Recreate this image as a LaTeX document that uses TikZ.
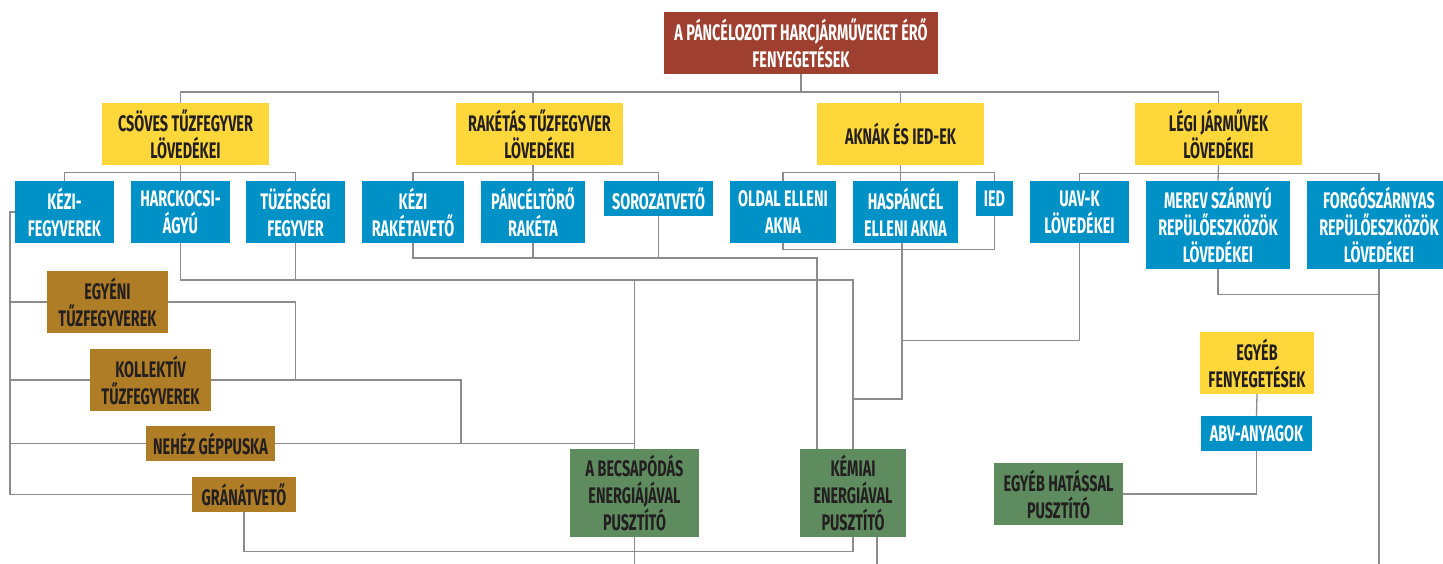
\documentclass[tikz,border=0pt]{standalone}
\usepackage{fontspec}
\newfontfamily\boxfont{Fira Sans}[FakeStretch=0.64]
\usetikzlibrary{positioning,calc}
\definecolor{threatred}{HTML}{9E3F2F}
\definecolor{catyellow}{HTML}{FED73B}
\definecolor{subblue}{HTML}{0091C7}
\definecolor{kindbrown}{HTML}{B07D27}
\definecolor{effgreen}{HTML}{5E8C5F}
\definecolor{inkdark}{HTML}{231F20}
\definecolor{wire}{HTML}{8C8C8C}

\begin{document}
\begin{tikzpicture}[
  x=1pt, y=-1pt,
  box/.style={inner sep=0pt, align=center, font=\boxfont\bfseries\fontsize{22.5}{27}\selectfont},
  head/.style={box, fill=threatred, text=white},
  cat/.style={box, fill=catyellow, text=inkdark},
  sub/.style={box, fill=subblue, text=white},
  kind/.style={box, fill=kindbrown, text=inkdark},
  effect/.style={box, fill=effgreen, text=inkdark},
  link/.style={draw=wire, line width=1.3pt}
]
  \clip (0,0) rectangle (1443,563);

  % root and the four categories
  \node[head, minimum width=274pt, minimum height=62pt] (top) at (801,43) {A PÁNCÉLOZOTT HARCJÁRMŰVEKET ÉRŐ\\FENYEGETÉSEK};
  \node[cat, minimum width=167pt, minimum height=62pt] (csoves) at (185.5,134) {CSÖVES TŰZFEGYVER\\LÖVEDÉKEI};
  \node[cat, minimum width=167pt, minimum height=62pt] (rakett) at (539.5,134) {RAKÉTÁS TŰZFEGYVER\\LÖVEDÉKEI};
  \node[cat, minimum width=167pt, minimum height=62pt] (aknak) at (900.5,134) {AKNÁK ÉS IED-EK};
  \node[cat, minimum width=167pt, minimum height=62pt] (legi) at (1218.5,134) {LÉGI JÁRMŰVEK\\LÖVEDÉKEI};

  % second row
  \node[sub, minimum width=99pt, minimum height=62pt] (kezi) at (64.5,212) {KÉZI-\\FEGYVEREK};
  \node[sub, minimum width=99pt, minimum height=62pt] (harckocsi) at (180.5,212) {HARCKOCSI-\\ÁGYÚ};
  \node[sub, minimum width=99pt, minimum height=62pt] (tuzer) at (295.5,212) {TÜZÉRSÉGI\\FEGYVER};
  \node[sub, minimum width=102pt, minimum height=62pt] (kezirak) at (413,212) {KÉZI\\RAKÉTAVETŐ};
  \node[sub, minimum width=104pt, minimum height=62pt] (pancel) at (533,212) {PÁNCÉLTÖRŐ\\RAKÉTA};
  \node[sub, minimum width=109pt, minimum height=35pt] (sorozat) at (658.5,198.5) {SOROZATVETŐ};
  \node[sub, minimum width=106pt, minimum height=62pt] (oldal) at (783,212) {OLDAL ELLENI\\AKNA};
  \node[sub, minimum width=105pt, minimum height=62pt] (haspancel) at (905.5,212) {HASPÁNCÉL\\ELLENI AKNA};
  \node[sub, minimum width=37pt, minimum height=35pt] (ied) at (994.5,198.5) {IED};
  \node[sub, minimum width=99pt, minimum height=62pt] (uav) at (1079.5,212) {UAV-K\\LÖVEDÉKEI};
  \node[sub, minimum width=144pt, minimum height=88pt] (merev) at (1218,225) {MEREV SZÁRNYÚ\\REPÜLŐESZKÖZÖK\\LÖVEDÉKEI};
  \node[sub, minimum width=144pt, minimum height=88pt] (forgo) at (1379,225) {FORGÓSZÁRNYAS\\REPÜLŐESZKÖZÖK\\LÖVEDÉKEI};

  % small arms
  \node[kind, minimum width=121pt, minimum height=62pt] (egyeni) at (107.5,302) {EGYÉNI\\TŰZFEGYVEREK};
  \node[kind, minimum width=121pt, minimum height=62pt] (kollektiv) at (150.5,380) {KOLLEKTÍV\\TŰZFEGYVEREK};
  \node[kind, minimum width=129pt, minimum height=35pt] (nehez) at (210.5,443.5) {NEHÉZ GÉPPUSKA};
  \node[kind, minimum width=104pt, minimum height=35pt] (granat) at (244,494.5) {GRÁNÁTVETŐ};

  % kill mechanisms
  \node[effect, minimum width=129pt, minimum height=88pt] (becsap) at (634.5,493) {A BECSAPÓDÁS\\ENERGIÁJÁVAL\\PUSZTÍTÓ};
  \node[effect, minimum width=106pt, minimum height=88pt] (kemiai) at (853,493) {KÉMIAI\\ENERGIÁVAL\\PUSZTÍTÓ};
  \node[effect, minimum width=129pt, minimum height=62pt] (egyebhat) at (1058.5,494) {EGYÉB HATÁSSAL\\PUSZTÍTÓ};

  % other threats
  \node[cat, minimum width=114pt, minimum height=62pt] (egyeb) at (1257,363) {EGYÉB\\FENYEGETÉSEK};
  \node[sub, minimum width=111pt, minimum height=35pt] (abv) at (1256.5,433.5) {ABV-ANYAGOK};

  % tree at the top
  \coordinate (bus) at (801,92);
  \draw[link] (top.south) -- (bus);
  \draw[link] (harckocsi.north |- csoves.north) |- (bus) -| (legi.north);
  \draw[link] (pancel.north |- rakett.north) -- (pancel.north |- bus);
  \draw[link] (aknak.north) -- (aknak.north |- bus);

  \draw[link] (kezi.north) |- ([yshift=-7pt]csoves.south) -| (tuzer.north);
  \draw[link] (harckocsi.north) -- (harckocsi.north |- csoves.south);
  \draw[link] (kezirak.north) |- ([yshift=-7pt]rakett.south) -| (sorozat.north);
  \draw[link] (pancel.north) -- (pancel.north |- rakett.south);
  \draw[link] (oldal.north) |- ([yshift=-7pt]aknak.south) -| (ied.north);
  \draw[link] (aknak.south) -- (aknak.south |- haspancel.north);
  \draw[link] (uav.north) |- ([yshift=-8pt]legi.south) -| (forgo.north);
  \draw[link] (legi.south) -- (merev.north);

  % small arms trunk
  \coordinate (trunk) at (10,212);
  \draw[link] (kezi.west) -- (trunk) |- (granat.west);
  \draw[link] (trunk |- egyeni.west) -- (egyeni.west);
  \draw[link] (trunk |- kollektiv.west) -- (kollektiv.west);
  \draw[link] (trunk |- nehez.west) -- (nehez.west);
  \coordinate (kol-end) at (461,380);
  \draw[link] (egyeni.east) -| (tuzer.south |- kollektiv.east);
  \draw[link] (kollektiv.east) -- (kol-end) |- (nehez.east);
  \draw[link] (nehez.east) -- (becsap.north |- nehez.east);

  % guns and rockets
  \coordinate (gun-bus) at (0,280);
  \draw[link] (harckocsi.south) |- (kemiai.north |- gun-bus) -- (kemiai.north);
  \draw[link] (tuzer.south) -- (tuzer.south |- gun-bus);
  \draw[link] (becsap.north) -- (becsap.north |- gun-bus);
  \coordinate (rocket-drop) at (817,258);
  \draw[link] (kezirak.south) |- (rocket-drop) -- (rocket-drop |- kemiai.north);
  \draw[link] (pancel.south) -- (pancel.south |- rocket-drop);
  \draw[link] (sorozat.south) -- (sorozat.south |- rocket-drop);

  % mines and drones
  \coordinate (mine-bend) at (902,399);
  \draw[link] (oldal.south) |- ([yshift=-6pt]haspancel.south) -| (ied.south);
  \draw[link] (mine-bend |- haspancel.south) -- (mine-bend) -- (kemiai.north |- mine-bend);
  \draw[link] (uav.south) |- ([yshift=-97pt]uav.south -| mine-bend);

  % grenade launcher
  \draw[link] (granat.south) |- ([yshift=-14pt]kemiai.south) -- (kemiai.south);

  % lines leaving the picture
  \coordinate (edge) at (0,570);
  \draw[link] (becsap.south) -- (becsap.south |- edge);
  \draw[link] ([xshift=24pt]kemiai.south) -- ([xshift=24pt]kemiai.south |- edge);
  \draw[link] (merev.south) |- ([yshift=-25pt]forgo.south);
  \draw[link] (forgo.south) -- (forgo.south |- edge);

  % other threats
  \draw[link] (egyeb.south) -- (abv.north);
  \draw[link] (abv.south) |- (egyebhat.east);
\end{tikzpicture}
\end{document}
